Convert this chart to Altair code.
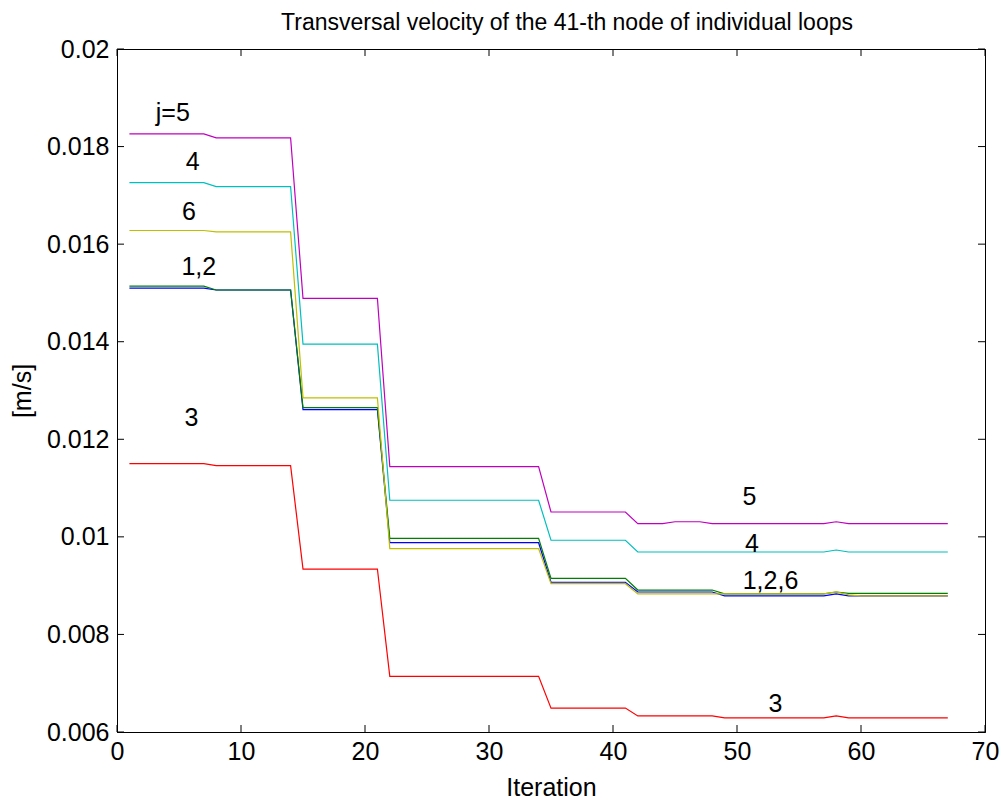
import altair as alt
import pandas as pd

# Breakpoint iterations (the plotted lines are piecewise linear between these)
iterations = [1, 7, 8, 14, 15, 21, 22, 34, 35, 41, 42, 44, 45, 47, 48, 49, 57, 58, 59, 60, 67]

v_j1 = [0.01510, 0.01510, 0.01506, 0.01506, 0.01261, 0.01261, 0.00988, 0.00988, 0.00907, 0.00907,
        0.00887, 0.00887, 0.00887, 0.00887, 0.00887, 0.00879, 0.00879, 0.00883, 0.00879, 0.00879, 0.00879]
v_j2 = [0.01514, 0.01514, 0.01506, 0.01506, 0.01265, 0.01265, 0.00997, 0.00997, 0.00915, 0.00915,
        0.00891, 0.00891, 0.00891, 0.00891, 0.00891, 0.00883, 0.00883, 0.00887, 0.00884, 0.00884, 0.00884]
v_j3 = [0.01150, 0.01150, 0.01146, 0.01146, 0.00934, 0.00934, 0.00714, 0.00714, 0.00649, 0.00649,
        0.00633, 0.00633, 0.00633, 0.00633, 0.00633, 0.00629, 0.00629, 0.00633, 0.00629, 0.00629, 0.00629]
v_j4 = [0.01726, 0.01726, 0.01718, 0.01718, 0.01395, 0.01395, 0.01075, 0.01075, 0.00993, 0.00993,
        0.00969, 0.00969, 0.00969, 0.00969, 0.00969, 0.00969, 0.00969, 0.00973, 0.00969, 0.00969, 0.00969]
v_j5 = [0.01826, 0.01826, 0.01818, 0.01818, 0.01489, 0.01489, 0.01144, 0.01144, 0.01051, 0.01051,
        0.01027, 0.01027, 0.01031, 0.01031, 0.01027, 0.01027, 0.01027, 0.01031, 0.01027, 0.01027, 0.01027]
v_j6 = [0.01628, 0.01628, 0.01625, 0.01625, 0.01285, 0.01285, 0.00976, 0.00976, 0.00904, 0.00904,
        0.00883, 0.00883, 0.00883, 0.00883, 0.00883, 0.00883, 0.00883, 0.00887, 0.00881, 0.00879, 0.00879]

series_values = [v_j1, v_j2, v_j3, v_j4, v_j5, v_j6]
series_colors = ["#0000FF", "#008000", "#FF0000", "#00BFBF", "#BF00BF", "#BFBF00"]

label_text = ["j=5", "4", "6", "1,2", "3", "5", "4", "1,2,6", "3"]
label_x = [4.5, 6.1, 5.8, 6.6, 6.0, 51.0, 51.2, 52.7, 53.1]
label_y = [0.01869, 0.01769, 0.01666, 0.01554, 0.01244, 0.01082, 0.00986, 0.00910, 0.00658]

x_ticks = [0, 10, 20, 30, 40, 50, 60, 70]
y_ticks = [0.006, 0.008, 0.010, 0.012, 0.014, 0.016, 0.018, 0.020]

W, H = 868, 683
FONT = "Liberation Sans"

xs = alt.Scale(domain=[0, 70], nice=False, zero=False)
ys = alt.Scale(domain=[0.006, 0.02], nice=False, zero=False)

xaxis = alt.Axis(values=x_ticks, title="Iteration", labelPadding=7, ticks=False, labelFlush=False,
                 titleX=W / 2, titleY=55, titleBaseline="middle", titleAlign="center")
yaxis = alt.Axis(values=y_ticks, title="[m/s]", labelPadding=8, ticks=False, labelFlush=False,
                 labelExpr="format(datum.value, '~g')",
                 titleX=-95, titleY=H / 2, titleBaseline="middle", titleAlign="center", titleAngle=-90)

layers = []
for vals, col in zip(series_values, series_colors):
    df = pd.DataFrame({"iteration": iterations, "v": vals})
    layers.append(
        alt.Chart(df).mark_line(color=col, strokeWidth=1.2).encode(
            x=alt.X("iteration:Q", scale=xs, axis=xaxis),
            y=alt.Y("v:Q", scale=ys, axis=yaxis),
        )
    )

xt_df = pd.DataFrame({"iteration": x_ticks})
yt_df = pd.DataFrame({"v": y_ticks})
tick_bottom = alt.Chart(xt_df).mark_rule(color="black", strokeWidth=1).encode(
    x=alt.X("iteration:Q", scale=xs, axis=xaxis), y=alt.value(H), y2=alt.value(H - 7))
tick_top = alt.Chart(xt_df).mark_rule(color="black", strokeWidth=1).encode(
    x=alt.X("iteration:Q", scale=xs, axis=xaxis), y=alt.value(0), y2=alt.value(7))
tick_left = alt.Chart(yt_df).mark_rule(color="black", strokeWidth=1).encode(
    y=alt.Y("v:Q", scale=ys, axis=yaxis), x=alt.value(0), x2=alt.value(7))
tick_right = alt.Chart(yt_df).mark_rule(color="black", strokeWidth=1).encode(
    y=alt.Y("v:Q", scale=ys, axis=yaxis), x=alt.value(W), x2=alt.value(W - 7))

lab_df = pd.DataFrame({"iteration": label_x, "v": label_y, "txt": label_text})
labels = alt.Chart(lab_df).mark_text(font=FONT, fontSize=25, color="black",
                                     align="center", baseline="middle").encode(
    x=alt.X("iteration:Q", scale=xs, axis=xaxis),
    y=alt.Y("v:Q", scale=ys, axis=yaxis),
    text="txt:N",
)

chart = alt.layer(tick_bottom, tick_top, tick_left, tick_right, *layers, labels).properties(
    width=W, height=H,
    padding={"left": 117, "top": 49, "right": 16, "bottom": 68},
    autosize=alt.AutoSizeParams(type="none"),
    title=alt.TitleParams("Transversal velocity of the 41-th node of individual loops",
                          font=FONT, fontSize=23, fontWeight="normal", color="black",
                          anchor="middle", offset=2, dx=16),
    background="white",
).configure_axis(
    labelFont=FONT, labelFontSize=25, labelColor="black",
    titleFont=FONT, titleFontSize=25, titleFontWeight="normal", titleColor="black",
    domainColor="black", domainWidth=1, grid=False,
).configure_view(stroke="black", strokeWidth=1)

chart.save("out.html", embed_options={"renderer": "svg", "actions": False})
